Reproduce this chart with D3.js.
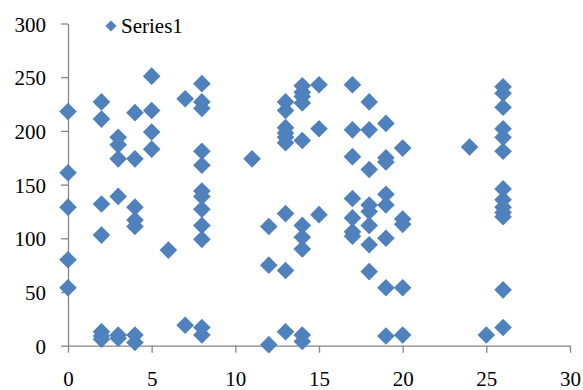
<!DOCTYPE html>
<html>
<head>
<meta charset="utf-8">
<script src="https://cdn.jsdelivr.net/npm/d3@7"></script>
</head>
<body style="margin:0">
<svg id="chart" width="583" height="390"></svg>
<script>
const seriesName = "Series1";
const xTicks = [0, 5, 10, 15, 20, 25, 30];
const yTicks = [0, 50, 100, 150, 200, 250, 300];
const xValues = [
  0,0,0,0,0,
  2,2,2,2,2,2,2,
  3,3,3,3,3,3,
  4,4,4,4,4,4,4,
  5,5,5,5,
  6,
  7,7,
  8,8,8,8,8,8,8,8,8,8,8,8,
  11,
  12,12,12,
  13,13,13,13,13,13,13,13,13,
  14,14,14,14,14,14,14,14,14,14,
  15,15,15,
  17,17,17,17,17,17,17,
  18,18,18,18,18,18,18,18,
  19,19,19,19,19,19,19,19,
  20,20,20,20,20,
  24,
  25,
  26,26,26,26,26,26,26,26,26,26,26,26,26
];
const yValues = [
  218,161,129,80,54,
  227,211,132,103,13,9,6,
  194,187,174,139,10,7,
  217,174,129,117,111,10,3,
  251,219,199,183,
  89,
  230,19,
  244,227,221,181,168,144,139,127,112,99,17,10,
  174,
  111,75,1,
  227,219,203,198,194,189,123,70,13,
  242,236,232,226,191,112,101,90,10,4,
  243,202,122,
  243,201,176,137,119,106,102,
  227,201,164,131,125,112,94,69,
  207,175,171,141,131,100,54,9,
  184,118,113,54,10,
  185,
  10,
  241,235,222,202,194,181,146,136,129,124,120,52,17
];

const points = xValues.map((x, i) => ({ x, y: yValues[i] }));

const svg = d3.select("#chart");
const color = "#4F81BD";
const axisColor = "#868686";
const font = "Liberation Serif";

const x = d3.scaleLinear().domain([0, 30]).range([68, 570]);
const y = d3.scaleLinear().domain([0, 300]).range([345.7, 23.5]);

// Y axis
const yAxis = svg.append("g")
  .attr("transform", `translate(${x(0)},0)`)
  .call(d3.axisLeft(y).tickValues(yTicks).tickSize(7).tickSizeOuter(0).tickPadding(15));
yAxis.attr("font-family", font).attr("font-size", 21);
yAxis.select(".domain").attr("stroke", axisColor).attr("stroke-width", 1.3);
yAxis.selectAll(".tick line").attr("stroke", axisColor).attr("stroke-width", 1.3);
yAxis.selectAll(".tick text")
  .attr("fill", "#000")
  .attr("dy", "0.36em")
  .attr("font-family", font)
  .attr("font-size", 21);

// X axis
const xAxis = svg.append("g")
  .attr("transform", `translate(0,${y(0)})`)
  .call(d3.axisBottom(x).tickValues(xTicks).tickSize(7).tickSizeOuter(0).tickPadding(18));
xAxis.attr("font-family", font).attr("font-size", 21);
xAxis.select(".domain").attr("stroke", axisColor).attr("stroke-width", 1.3);
xAxis.selectAll(".tick line").attr("stroke", axisColor).attr("stroke-width", 1.3);
xAxis.selectAll(".tick text")
  .attr("fill", "#000")
  .attr("font-family", font)
  .attr("font-size", 21);

// Points
const diamond = d3.symbol().type(d3.symbolSquare).size(155);
svg.append("g").selectAll("path")
  .data(points)
  .join("path")
  .attr("d", diamond)
  .attr("transform", d => `translate(${x(d.x)},${y(d.y)}) rotate(45)`)
  .attr("fill", color);

// Legend
const legend = svg.append("g");
legend.append("path")
  .attr("d", d3.symbol().type(d3.symbolSquare).size(60))
  .attr("transform", "translate(111,26) rotate(45)")
  .attr("fill", color);
legend.append("text")
  .attr("x", 121)
  .attr("y", 33)
  .attr("fill", "#000")
  .attr("font-family", font)
  .attr("font-size", 21)
  .text(seriesName);
</script>
</body>
</html>
